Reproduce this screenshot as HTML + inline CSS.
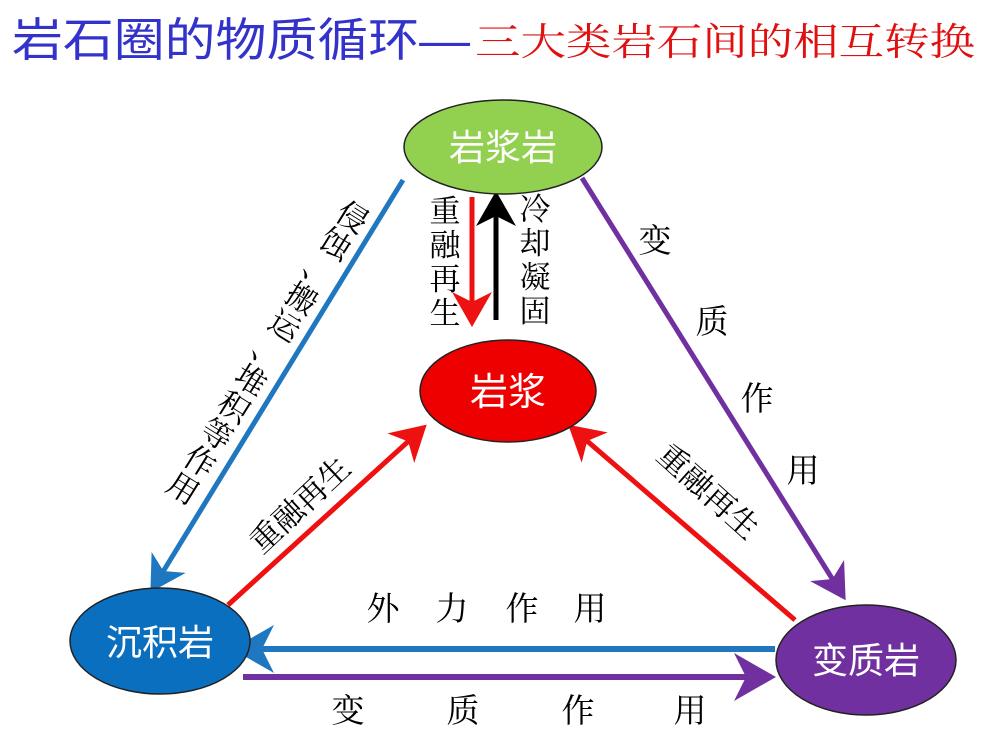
<!DOCTYPE html>
<html><head><meta charset="utf-8"><style>
html,body{margin:0;padding:0;background:#fff;}
svg{display:block;font-family:"Liberation Sans","Noto Sans CJK SC","WenQuanYi Zen Hei",sans-serif;}
.s{font-family:"Liberation Serif","Noto Serif CJK SC",serif;}
</style></head><body>
<svg width="992" height="741" viewBox="0 0 992 741" xmlns="http://www.w3.org/2000/svg">
<defs>
<marker id="ab" markerWidth="8" markerHeight="8" refX="6" refY="4" orient="auto" markerUnits="strokeWidth"><path d="M0,0 L7,4 L0,8 L2,4 z" fill="#1f77c0"/></marker>
<marker id="ap" markerWidth="8" markerHeight="8" refX="6" refY="4" orient="auto" markerUnits="strokeWidth"><path d="M0,0 L7,4 L0,8 L2,4 z" fill="#7030a0"/></marker>
<marker id="ar" markerWidth="8" markerHeight="8" refX="6" refY="4" orient="auto" markerUnits="strokeWidth"><path d="M0,0 L7,4 L0,8 L2,4 z" fill="#ee1111"/></marker>
<marker id="ak" markerWidth="8" markerHeight="8" refX="6" refY="4" orient="auto" markerUnits="strokeWidth"><path d="M0,0 L7,4 L0,8 L2,4 z" fill="#000"/></marker>
</defs>
<text x="12" y="56" font-size="46" fill="#3333cc" textLength="458" lengthAdjust="spacingAndGlyphs">岩石圈的物质循环—</text>
<text class="s" x="475" y="55" font-size="38" fill="#e01010" textLength="500" lengthAdjust="spacingAndGlyphs">三大类岩石间的相互转换</text>

<line x1="403" y1="180" x2="153" y2="588" stroke="#1f77c0" stroke-width="5" marker-end="url(#ab)"/>
<line x1="582" y1="178" x2="843" y2="596" stroke="#7030a0" stroke-width="5" marker-end="url(#ap)"/>
<line x1="228" y1="605" x2="423" y2="428" stroke="#ee1111" stroke-width="5" marker-end="url(#ar)"/>
<line x1="795" y1="620" x2="572" y2="428" stroke="#ee1111" stroke-width="5" marker-end="url(#ar)"/>
<line x1="472" y1="197" x2="472" y2="322" stroke="#ee1111" stroke-width="5" marker-end="url(#ar)"/>
<line x1="496" y1="320" x2="496" y2="196" stroke="#000" stroke-width="5" marker-end="url(#ak)"/>
<line x1="775" y1="649" x2="238" y2="649" stroke="#1f77c0" stroke-width="6" marker-end="url(#ab)"/>
<line x1="243" y1="677" x2="770" y2="677" stroke="#7030a0" stroke-width="6" marker-end="url(#ap)"/>

<ellipse cx="503" cy="147" rx="99" ry="47" fill="#92d050" stroke="#222" stroke-width="1.5"/>
<text x="503" y="160" font-size="36" fill="#fff" text-anchor="middle">岩浆岩</text>
<ellipse cx="508" cy="391" rx="88" ry="51" fill="#ee0000" stroke="#222" stroke-width="1.5"/>
<text x="508" y="405" font-size="38" fill="#fff" text-anchor="middle">岩浆</text>
<ellipse cx="160" cy="641" rx="90" ry="53" fill="#0b6fbf" stroke="#222" stroke-width="1.5"/>
<text x="160" y="655" font-size="36" fill="#fff" text-anchor="middle">沉积岩</text>
<ellipse cx="866" cy="660" rx="90" ry="55" fill="#7030a0" stroke="#222" stroke-width="1.5"/>
<text x="866" y="673" font-size="36" fill="#fff" text-anchor="middle">变质岩</text>

<g class="s" font-size="31" fill="#000" text-anchor="middle">
<text x="445" y="222">重</text><text x="445" y="256">融</text><text x="445" y="290">再</text><text x="445" y="324">生</text>
<text x="535" y="220">冷</text><text x="535" y="254">却</text><text x="535" y="288">凝</text><text x="535" y="322">固</text>
</g>
<g class="s" font-size="31" fill="#000" text-anchor="middle" transform="translate(352,218) rotate(32)">
<text x="0" y="10">侵</text><text x="0" y="42">蚀</text><text x="0" y="74">、</text><text x="0" y="106">搬</text><text x="0" y="138">运</text><text x="0" y="170">、</text><text x="0" y="202">堆</text><text x="0" y="234">积</text><text x="0" y="266">等</text><text x="0" y="298">作</text><text x="0" y="330">用</text>
</g>
<text class="s" font-size="31" fill="#000" transform="translate(262,555) rotate(-43)">重融再生</text>
<text class="s" font-size="31" fill="#000" transform="translate(655,458) rotate(42)">重融再生</text>
<g class="s" font-size="33" fill="#000" text-anchor="middle">
<text x="655" y="252">变</text><text x="712" y="333">质</text><text x="757" y="410">作</text><text x="803" y="482">用</text>
<text x="383" y="620">外</text><text x="452" y="620">力</text><text x="522" y="620">作</text><text x="590" y="620">用</text>
<text x="348" y="722">变</text><text x="463" y="722">质</text><text x="578" y="722">作</text><text x="690" y="722">用</text>
</g>
</svg>
</body></html>
